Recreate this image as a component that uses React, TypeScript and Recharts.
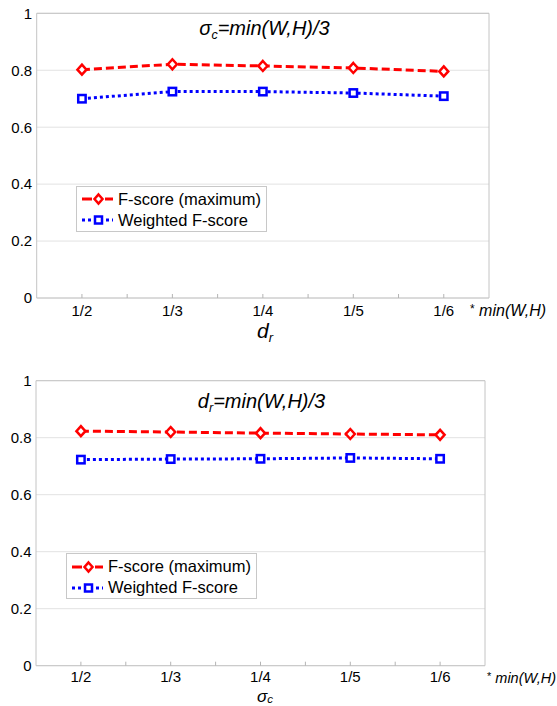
import React from 'react';
import { LineChart, Line, XAxis, YAxis, CartesianGrid, ReferenceArea, Legend } from 'recharts';

const categories = ['1/2', '1/3', '1/4', '1/5', '1/6'];
const seriesNames = ['F-score (maximum)', 'Weighted F-score'];
const topFscore = [0.802, 0.821, 0.815, 0.808, 0.796];
const topWeighted = [0.700, 0.725, 0.725, 0.720, 0.709];
const bottomFscore = [0.823, 0.820, 0.816, 0.813, 0.810];
const bottomWeighted = [0.723, 0.725, 0.726, 0.729, 0.726];
const yTicks = [0, 0.2, 0.4, 0.6, 0.8, 1];
const xTicks = [1, 1.5, 2, 2.5, 3, 3.5, 4, 4.5, 5];

const FONT = 'Liberation Sans, Arial, sans-serif';
const RED = '#ff0000';
const BLUE = '#0000ff';

const makeBottomTick = (labelDy: number) => (p: any) => {
  const { x, y, payload } = p;
  const v = payload.value;
  const major = Number.isInteger(v);
  return (
    <g>
      <line x1={x} x2={x} y1={y} y2={y - 4} stroke="#b4b4b4" strokeWidth={1} />
      {major && (
        <text x={x} y={y + labelDy} textAnchor="middle" fontSize={15} fontFamily={FONT} fill="#000">
          {categories[v - 1]}
        </text>
      )}
    </g>
  );
};

const TopTick = (p: any) => {
  const { x, y } = p;
  return <line x1={x} x2={x} y1={y} y2={y + 4} stroke="#b4b4b4" strokeWidth={1} />;
};

const renderDiamond = (props: any) => {
  const { cx, cy, index } = props;
  return (
    <path
      key={`dia-${index}`}
      d={`M${cx},${cy - 5} L${cx + 4.5},${cy} L${cx},${cy + 5} L${cx - 4.5},${cy} Z`}
      fill="#fff"
      stroke={RED}
      strokeWidth={2.5}
    />
  );
};

const renderSquare = (props: any) => {
  const { cx, cy, index } = props;
  return (
    <rect key={`sq-${index}`} x={cx - 3.7} y={cy - 3.7} width={7.4} height={7.4} fill="#fff" stroke={BLUE} strokeWidth={2.5} />
  );
};

const LegendBox = () => (
  <div
    style={{
      width: 191,
      height: 46,
      boxSizing: 'border-box',
      border: '1px solid #c8c8c8',
      background: '#fff',
      paddingTop: 2,
      fontFamily: FONT,
      fontSize: 16.5,
      color: '#000',
    }}
  >
    <div style={{ display: 'flex', alignItems: 'center', height: 21, paddingLeft: 5 }}>
      <svg width={36} height={14} style={{ display: 'block' }}>
        <line x1={0} x2={10} y1={7} y2={7} stroke={RED} strokeWidth={3} />
        <path d="M16.5,2.5 L20.5,7 L16.5,11.5 L12.5,7 Z" fill="#fff" stroke={RED} strokeWidth={2.5} />
        <line x1={23} x2={31} y1={7} y2={7} stroke={RED} strokeWidth={3} />
      </svg>
      <span style={{ whiteSpace: 'nowrap' }}>{seriesNames[0]}</span>
    </div>
    <div style={{ display: 'flex', alignItems: 'center', height: 21, paddingLeft: 5 }}>
      <svg width={36} height={14} style={{ display: 'block' }}>
        <line x1={0} x2={11} y1={7} y2={7} stroke={BLUE} strokeWidth={3} strokeDasharray="3 3" />
        <rect x={13} y={3.5} width={7} height={7} fill="#fff" stroke={BLUE} strokeWidth={2.5} />
        <line x1={24} x2={31} y1={7} y2={7} stroke={BLUE} strokeWidth={3} strokeDasharray="3 3" />
      </svg>
      <span style={{ whiteSpace: 'nowrap' }}>{seriesNames[1]}</span>
    </div>
  </div>
);

type PanelProps = {
  top: number;
  height: number;
  margin: { top: number; right: number; bottom: number; left: number };
  yWidth: number;
  fscore: number[];
  weighted: number[];
  legendLeft: number;
  legendTop: number;
  labelDy: number;
};

const Panel = ({ top, height, margin, yWidth, fscore, weighted, legendLeft, legendTop, labelDy }: PanelProps) => {
  const data = categories.map((c, i) => ({ x: i + 1, label: c, fscore: fscore[i], weighted: weighted[i] }));
  return (
    <div style={{ position: 'absolute', left: 0, top }}>
      <LineChart width={557} height={height} data={data} margin={margin}>
        <CartesianGrid vertical={false} stroke="#e2e2e2" />
        <ReferenceArea x1={0.5} x2={5.5} y1={0} y2={1} fill="none" stroke="#c4c4c4" strokeWidth={1} ifOverflow="visible" />
        <XAxis
          dataKey="x"
          type="number"
          domain={[0.5, 5.5]}
          ticks={xTicks}
          interval={0}
          axisLine={false}
          tickLine={false}
          tickSize={0}
          tickMargin={0}
          height={30}
          tick={makeBottomTick(labelDy)}
        />
        <XAxis
          xAxisId="top"
          orientation="top"
          type="number"
          domain={[0.5, 5.5]}
          ticks={xTicks}
          interval={0}
          axisLine={false}
          tickLine={false}
          tickSize={0}
          tickMargin={0}
          height={0}
          tick={TopTick}
        />
        <YAxis
          type="number"
          domain={[0, 1]}
          ticks={yTicks}
          interval={0}
          axisLine={false}
          tickLine={false}
          tickSize={0}
          tickMargin={4.5}
          width={yWidth}
          tick={{ fontSize: 15, fill: '#000', fontFamily: FONT }}
        />
        <Line
          dataKey="fscore"
          name={seriesNames[0]}
          stroke={RED}
          strokeWidth={3}
          strokeDasharray="8 4"
          dot={renderDiamond}
          activeDot={false}
          isAnimationActive={false}
        />
        <Line
          dataKey="weighted"
          name={seriesNames[1]}
          stroke={BLUE}
          strokeWidth={3}
          strokeDasharray="3 3"
          dot={renderSquare}
          activeDot={false}
          isAnimationActive={false}
        />
        <Legend
          verticalAlign="middle"
          align="center"
          content={() => <LegendBox />}
          wrapperStyle={{ left: legendLeft, top: legendTop, width: 191, height: 46 }}
        />
      </LineChart>
    </div>
  );
};

const Overlay = () => (
  <svg width={557} height={706} style={{ position: 'absolute', left: 0, top: 0, pointerEvents: 'none' }}>
    <g fontFamily={FONT} fill="#000">
      <text x={264.5} y={35} textAnchor="middle" fontSize={20} fontStyle="italic">
        <tspan>σ</tspan>
        <tspan fontSize={12.5} dy={4}>c</tspan>
        <tspan dy={-4}>=min(W,H)/3</tspan>
      </text>
      <text x={265} y={338} textAnchor="middle" fontSize={21} fontStyle="italic">
        <tspan>d</tspan>
        <tspan fontSize={13} dy={4}>r</tspan>
      </text>
      <text x={470} y={316} fontSize={16}>
        <tspan fontSize={12} dy={-3}>*</tspan>
        <tspan fontStyle="italic" dy={3}> min(W,H)</tspan>
      </text>

      <text x={261.5} y={408} textAnchor="middle" fontSize={20} fontStyle="italic">
        <tspan>d</tspan>
        <tspan fontSize={12.5} dy={4}>r</tspan>
        <tspan dy={-4}>=min(W,H)/3</tspan>
      </text>
      <text x={265} y={701.5} textAnchor="middle" fontSize={17} fontStyle="italic">
        <tspan>σ</tspan>
        <tspan fontSize={11.5} dy={1.5}>c</tspan>
      </text>
      <text x={487} y={683} fontSize={14.5}>
        <tspan fontSize={11} dy={-3}>*</tspan>
        <tspan fontStyle="italic" dy={3}> min(W,H)</tspan>
      </text>
    </g>
  </svg>
);

export default function App() {
  return (
    <div style={{ position: 'absolute', left: 0, top: 0, width: 557, height: 706, background: '#fff', overflow: 'hidden' }}>
      <Panel
        top={0}
        height={350}
        margin={{ top: 13.3, right: 68, bottom: 22, left: 0 }}
        yWidth={36.7}
        fscore={topFscore}
        weighted={topWeighted}
        legendLeft={76}
        legendTop={185.7}
        labelDy={17.5}
      />
      <Panel
        top={360}
        height={346}
        margin={{ top: 20.7, right: 72, bottom: 10.3, left: 0 }}
        yWidth={36}
        fscore={bottomFscore}
        weighted={bottomWeighted}
        legendLeft={66}
        legendTop={193.3}
        labelDy={16}
      />
      <Overlay />
    </div>
  );
}
